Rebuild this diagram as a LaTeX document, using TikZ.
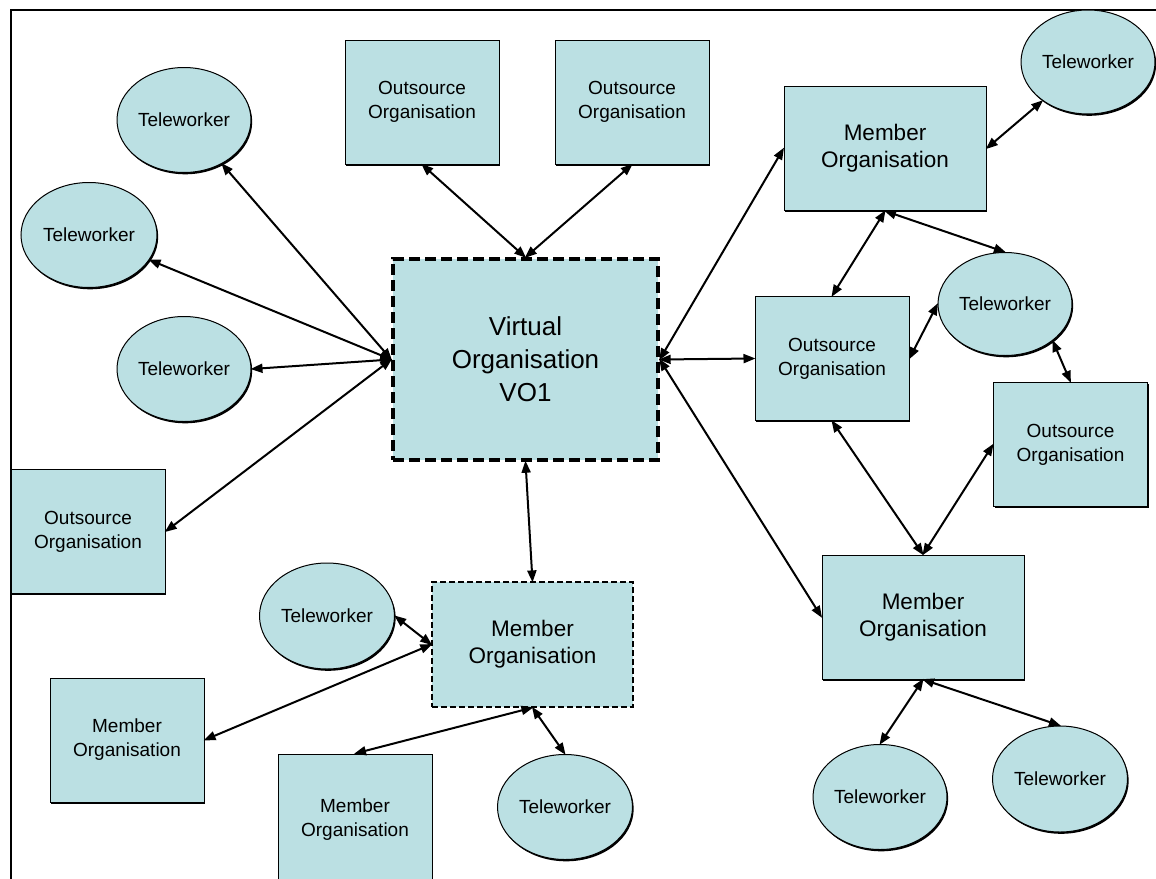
\documentclass[tikz,border=0pt]{standalone}
\usepackage{fontspec}
\setmainfont{Liberation Sans}
\usetikzlibrary{arrows.meta,shapes.geometric,shadows}
\definecolor{boxfill}{RGB}{187,224,227}

\begin{document}
\begin{tikzpicture}[x=1pt,y=-1pt,
  shape base/.style={fill=boxfill, draw=black, line width=1pt,
    align=center, inner sep=0pt, text=black},
  edged/.style={drop shadow={shadow xshift=1.2pt, shadow yshift=-1.8pt,
    fill=black, opacity=1}},
  outbox/.style={shape base, edged, rectangle, minimum width=154, minimum height=124,
    font=\fontsize{19}{24}\selectfont},
  memberbox/.style={shape base, edged, rectangle, minimum width=202, minimum height=124,
    font=\fontsize{22.5}{27}\selectfont},
  worker/.style={shape base, edged, ellipse, minimum width=134, minimum height=105,
    font=\fontsize{19}{24}\selectfont},
  link/.style={arrows={Triangle[length=12pt,width=9pt]-Triangle[length=12pt,width=9pt]},
    line width=2pt, shorten <=-1pt, shorten >=-1pt}
]
\useasboundingbox (0,0) rectangle (1156,878);
\path[clip] (0,0) rectangle (1156,878);
\fill[white] (0,0) rectangle (1156,878);

% outer frame (top and left rules)
\draw[line width=2.2pt] (11,880) -- (11,10) -- (1160,10);

% central virtual organisation
\node[shape base, rectangle, minimum width=265, minimum height=201,
  line width=3.4pt, dash pattern=on 11pt off 5pt,
  font=\fontsize{26}{33}\selectfont] (vo) at (525.5,359.5)
  {Virtual\\Organisation\\VO1};

% outsource organisations
\node[outbox] (out1) at (422,102) {Outsource\\Organisation};
\node[outbox] (out2) at (632,102) {Outsource\\Organisation};
\node[outbox] (orm) at (832,358.5) {Outsource\\Organisation};
\node[outbox] (orl) at (1070.5,444.5) {Outsource\\Organisation};
\node[outbox] (ol) at (88,531.5) {Outsource\\Organisation};

% member organisations
\node[memberbox] (mtr) at (885,148.5) {Member\\Organisation};
\node[memberbox] (mrl) at (923,617) {Member\\Organisation};
\node[shape base, rectangle, minimum width=201, minimum height=125,
  dash pattern=on 6pt off 3pt, line width=1.2pt,
  font=\fontsize{22.5}{27}\selectfont] (mc) at (532.5,644.5) {Member\\Organisation};
\node[outbox] (mbl) at (127,740) {Member\\Organisation};
\node[outbox, minimum height=132] (mb) at (355,820) {Member\\Organisation};

% teleworkers
\node[worker] (t1) at (184,120) {Teleworker};
\node[worker, minimum width=136] (t2) at (89,235) {Teleworker};
\node[worker] (t3) at (184,369) {Teleworker};
\node[worker, minimum height=104] (ttr) at (1088,62) {Teleworker};
\node[worker, minimum height=103] (tm) at (1005,304) {Teleworker};
\node[worker, minimum width=135, minimum height=106] (tbl) at (327,616) {Teleworker};
\node[worker, minimum width=135] (tbc) at (565,807) {Teleworker};
\node[worker] (tbr1) at (880,797) {Teleworker};
\node[worker, minimum width=135, minimum height=106] (tbr2) at (1060,779) {Teleworker};

% links around the virtual organisation
\draw[link] (vo.west) -- (t1);
\draw[link] (vo.west) -- (t2);
\draw[link] (vo.west) -- (t3.east);
\draw[link] (vo.west) -- (ol.east);
\draw[link] (vo.north) -- (out1.south);
\draw[link] (vo.north) -- (out2.south);
\draw[link] (vo.south) -- (mc.north);
\draw[link] (vo.east) -- (mtr.west);
\draw[link] (vo.east) -- (orm.west);
\draw[link] (vo.east) -- (mrl.west);

% right-hand cluster
\draw[link] (mtr.south) -- (orm.north);
\draw[link] (mtr.south) -- (tm.north);
\draw[link] (mtr.east) -- (ttr);
\draw[link] (orm.east) -- (tm.west);
\draw[link] (tm.south east) -- (orl.north);
\draw[link] (orm.south) -- (mrl.north);
\draw[link] (orl.west) -- (mrl.north);
\draw[link] (mrl.south) -- (tbr1.north);
\draw[link] (mrl.south) -- (tbr2.north);

% lower cluster
\draw[link] (mc.west) -- (tbl.east);
\draw[link] (mc.west) -- (mbl.east);
\draw[link] (mc.south) -- (mb.north);
\draw[link] (mc.south) -- (tbc.north);
\end{tikzpicture}
\end{document}
